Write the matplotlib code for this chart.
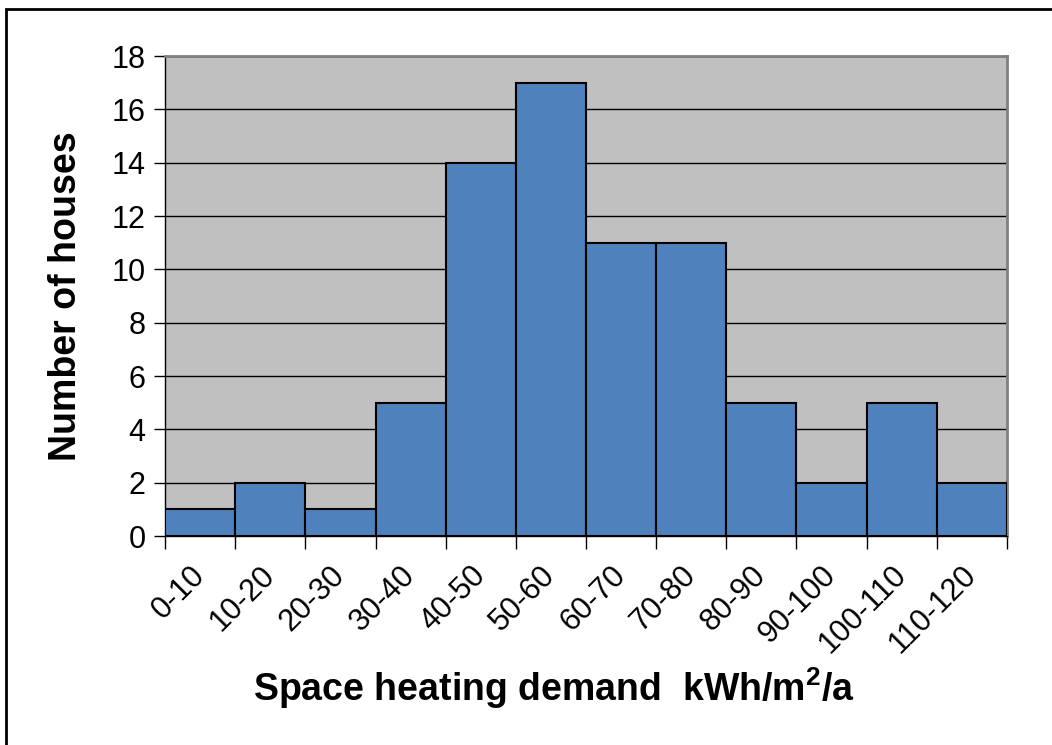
import matplotlib
matplotlib.use("Agg")
import matplotlib.pyplot as plt
from matplotlib.patches import Rectangle
import numpy as np

categories = ["0-10", "10-20", "20-30", "30-40", "40-50", "50-60", "60-70",
              "70-80", "80-90", "90-100", "100-110", "110-120"]
counts = [1, 2, 1, 5, 14, 17, 11, 11, 5, 2, 5, 2]
y_ticks = [0, 2, 4, 6, 8, 10, 12, 14, 16, 18]

plt.rcParams['font.family'] = ['Liberation Sans', 'DejaVu Sans']
plt.rcParams['mathtext.fontset'] = 'custom'
plt.rcParams['mathtext.rm'] = 'Liberation Sans:bold'
plt.rcParams['mathtext.bf'] = 'Liberation Sans:bold'

fig = plt.figure(figsize=(10.52, 7.45), dpi=100)
ax = fig.add_axes([165/1052, 1-536/745, (1007-165)/1052, (536-56)/745])
ax.set_facecolor('#C0C0C0')

x = np.arange(len(categories))
ax.bar(x, counts, width=1.0, align='edge', color='#4F81BD',
       edgecolor='black', linewidth=1.5, zorder=3)

ax.set_xlim(0, len(categories))
ax.set_ylim(0, 18)
ax.set_yticks(y_ticks)
ax.set_yticklabels([str(v) for v in y_ticks], fontsize=22)
ax.yaxis.grid(True, color='black', linewidth=1.0, zorder=1)
ax.set_axisbelow(True)

ax.set_xticks(np.arange(len(categories) + 1))
ax.set_xticklabels([])
ax.set_xticks(x + 0.5, minor=True)
ax.set_xticklabels(categories, minor=True, rotation=45, ha='right', va='center',
                   rotation_mode='anchor', fontsize=22)
ax.tick_params(axis='x', which='minor', length=0, pad=25)
ax.tick_params(axis='x', which='major', length=9, width=1, color='black', direction='out')
ax.tick_params(axis='y', length=8, width=1, direction='out', pad=6)

for s in ['top', 'right']:
    ax.spines[s].set_color('#808080')
    ax.spines[s].set_linewidth(2)
for s in ['left', 'bottom']:
    ax.spines[s].set_color('black')
    ax.spines[s].set_linewidth(1)

ax.set_ylabel('Number of houses', fontsize=27, fontweight='bold', labelpad=20)
ax.set_xlabel('Space heating demand  kWh/m$^{\\mathbf{2}}$/a', fontsize=27,
              fontweight='bold')
ax.xaxis.set_label_coords((554 - 165) / (1007 - 165), -(688 - 536) / (536 - 56))
ax.xaxis.label.set_va('center')

fig.patches.append(Rectangle((6/1052, -0.1), 1.2, 1 - 9/745 + 0.1,
                             transform=fig.transFigure, fill=False,
                             edgecolor='black', linewidth=2))

fig.savefig('out.png', dpi=100)
